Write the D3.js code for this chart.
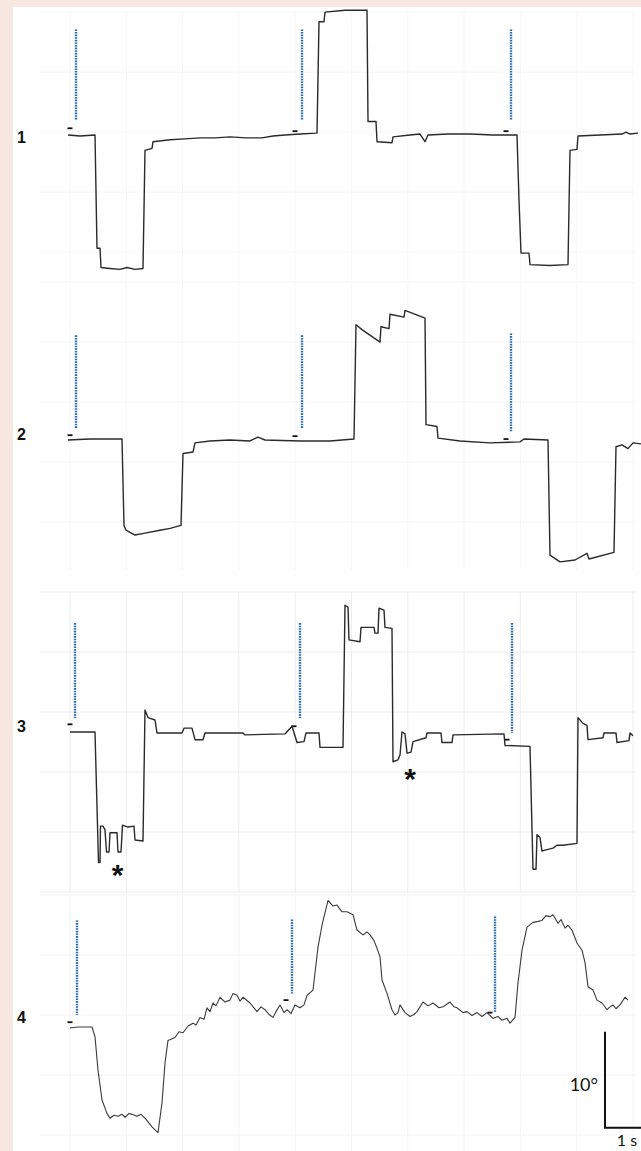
<!DOCTYPE html>
<html>
<head>
<meta charset="utf-8">
<script src="https://cdn.jsdelivr.net/npm/d3@7"></script>
<style>
  body { margin:0; background:#f9e8e1; overflow:hidden; }
  svg { display:block; }
</style>
</head>
<body>
<script>
const width = 641;
const height = 1151;

// traces: [time (s), angle (deg) relative to rest]
const trace1 = [[0,0],[0.24,-0.1],[0.54,0],[0.58,-11.8],[0.64,-11.8],[0.66,-13.8],[0.84,-13.9],[1.04,-14.0],[1.18,-13.8],[1.34,-14.0],[1.5,-13.9],
  [1.54,-1.6],[1.68,-1.4],[1.7,-0.7],[2.04,-0.5],[2.34,-0.4],[2.64,-0.3],[2.94,-0.3],[3.24,-0.2],[3.56,-0.3],[3.88,-0.3],[4.1,-0.1],[4.34,0],[4.64,0.1],[4.98,0.2],
  [5.02,11.8],[5.12,11.8],[5.14,12.8],[5.54,13.0],[5.98,13.0],[6.0,1.4],[6.16,1.4],[6.18,-0.7],[6.48,-0.8],[6.5,-0.2],[6.84,0],[7.04,0.1],[7.14,-0.7],[7.2,0],
  [7.6,0.1],[8.04,0.1],[8.5,0],[8.98,0],[9.02,-6.8],[9.06,-12.3],[9.22,-12.3],[9.24,-13.5],[9.64,-13.6],[10.0,-13.5],[10.04,-1.6],[10.18,-1.5],[10.2,-0.1],
  [10.64,0],[11.08,0.1],[11.16,0.3],[11.24,0.1],[11.4,0.2]];

const trace2 = [[0,0],[0.44,0.1],[1.08,0.1],[1.12,-8.9],[1.16,-9.4],[1.34,-9.9],[1.54,-9.7],[1.84,-9.4],[2.04,-9.2],[2.26,-8.9],[2.3,-1.4],[2.5,-1.25],
  [2.54,-0.3],[2.84,-0.1],[3.24,0],[3.64,-0.1],[3.8,0.3],[3.94,0],[4.64,-0.1],[5.24,-0.1],[5.72,0.1],[5.76,12.0],[5.88,11.5],[6.24,10.2],[6.26,11.8],
  [6.42,11.6],[6.44,13.1],[6.72,12.8],[6.74,13.5],[7.14,12.7],[7.16,1.6],[7.38,1.4],[7.4,0.2],[7.84,-0.1],[8.44,-0.3],[9.04,-0.2],[9.12,0.1],[9.6,0],
  [9.64,-12.0],[9.84,-12.7],[10.14,-12.5],[10.38,-11.8],[10.42,-12.4],[10.92,-11.7],[10.96,-0.7],[11.08,-0.5],[11.2,-0.9],[11.3,-0.3],[11.46,-0.4]];

const trace3 = [[0.04,0],[0.54,0],[0.61,-13.6],[0.64,-13.6],[0.65,-9.8],[0.7,-9.8],[0.74,-10.2],[0.77,-12.5],[0.82,-12.5],[0.84,-10.5],[0.98,-10.5],
  [1.0,-12.5],[1.06,-12.5],[1.09,-9.7],[1.2,-9.9],[1.32,-9.8],[1.34,-11.25],[1.5,-11.35],[1.54,2.3],[1.6,1.5],[1.74,1.25],[1.78,-0.1],[2.28,-0.1],
  [2.32,0.4],[2.48,0.4],[2.54,-0.8],[2.7,-0.8],[2.74,-0.1],[3.5,-0.1],[3.54,-0.3],[4.34,-0.2],[4.48,0.6],[4.58,-1.1],[4.72,-1.0],[4.76,-0.1],
  [5.02,-0.1],[5.04,-1.6],[5.5,-1.6],[5.54,13.2],[5.6,13.0],[5.62,9.6],[5.84,9.4],[5.86,10.9],[6.12,10.9],[6.14,10.3],[6.2,10.3],[6.22,12.9],
  [6.32,12.7],[6.34,10.9],[6.48,10.8],[6.5,-3.1],[6.6,-2.9],[6.64,-2.4],[6.68,0],[6.74,-0.2],[6.78,-2.2],[6.86,-2.1],[6.9,-1.0],[7.16,-0.6],[7.18,-0.1],
  [7.46,-0.1],[7.48,-1.1],[7.68,-1.1],[7.7,-0.3],[8.72,-0.2],[8.74,-1.4],[9.24,-1.5],[9.3,-14.3],[9.36,-14.3],[9.38,-10.7],[9.44,-11.0],[9.48,-12.4],
  [9.54,-12.3],[9.7,-12.1],[9.78,-11.8],[9.9,-11.8],[10.18,-11.6],[10.2,1.5],[10.3,0.9],[10.38,0.7],[10.4,-0.8],[10.7,-0.6],[10.72,-0.1],[10.96,-0.1],
  [10.98,-1.1],[11.22,-0.9],[11.24,-0.1],[11.3,-0.4]];

const trace4 = [[0.04,-0.1],[0.2,0],[0.48,0],[0.54,-1.0],[0.6,-4.5],[0.68,-7.6],[0.78,-9.0],[0.84,-9.5],[0.92,-9.2],[1.0,-9.3],[1.08,-9.1],[1.14,-9.4],
  [1.22,-9.0],[1.28,-9.1],[1.38,-9.3],[1.46,-9.1],[1.54,-9.5],[1.68,-10.4],[1.8,-11.0],[1.88,-7.9],[1.94,-3.75],[2.0,-1.4],[2.14,-1.1],[2.22,-0.5],
  [2.3,-0.6],[2.4,0.1],[2.5,0.4],[2.56,0.2],[2.64,1.0],[2.72,0.8],[2.78,2.0],[2.84,1.6],[2.9,2.5],[2.96,2.2],[3.04,3.1],[3.14,2.6],[3.24,2.8],[3.3,3.5],
  [3.38,3.3],[3.44,2.7],[3.5,3.1],[3.64,2.5],[3.72,2.0],[3.78,1.6],[3.86,2.1],[3.94,1.8],[4.02,1.3],[4.1,1.0],[4.16,1.6],[4.24,2.3],[4.32,1.5],
  [4.38,1.8],[4.46,1.4],[4.54,2.3],[4.64,2.0],[4.72,2.3],[4.78,3.3],[4.9,3.85],[5.0,8.3],[5.08,10.6],[5.2,13.2],[5.3,12.6],[5.38,12.7],[5.48,12.0],
  [5.58,12.0],[5.7,11.7],[5.78,10.1],[5.9,9.6],[5.98,9.9],[6.04,9.6],[6.12,9.0],[6.18,8.2],[6.24,7.3],[6.28,4.9],[6.38,3.5],[6.48,1.8],[6.54,1.25],
  [6.6,1.5],[6.64,2.3],[6.74,1.5],[6.84,1.1],[6.92,1.3],[6.98,1.6],[7.1,2.6],[7.2,2.2],[7.3,2.5],[7.42,2.0],[7.5,2.1],[7.64,2.6],[7.72,2.1],[7.78,2.0],
  [7.9,1.5],[7.98,1.6],[8.08,1.2],[8.18,1.5],[8.28,1.1],[8.38,1.5],[8.5,0.9],[8.6,1.1],[8.68,0.7],[8.78,0.9],[8.84,0.4],[8.94,1.0],[9.0,4.6],[9.08,8.0],
  [9.18,10.4],[9.3,10.9],[9.4,11.0],[9.48,11.1],[9.56,11.6],[9.64,11.5],[9.7,11.7],[9.8,10.8],[9.86,11.2],[9.94,10.3],[10.0,10.6],[10.08,10.1],
  [10.18,8.75],[10.28,8.0],[10.34,6.7],[10.4,4.2],[10.5,3.85],[10.58,2.8],[10.68,2.5],[10.78,1.8],[10.84,2.1],[10.9,2.3],[10.96,1.9],[11.04,2.3],
  [11.14,3.1],[11.2,2.8]];

// stimulus onsets (s), dotted lines from/to (deg), onset markers (deg)
const stimTimes = [[0.16,4.68,8.86],[0.16,4.68,8.86],[0.14,4.64,8.88],[0.18,4.48,8.54]];
const stimTop = [[11.0,11.0,11.0],[10.9,10.9,11.1],[11.35,11.35,11.35],[11.1,11.2,11.5]];
const stimBottom = [[1.5,1.5,1.5],[1.25,1.25,0.85],[1.45,1.45,-0.1],[1.25,3.5,1.6]];
const markTimes = [[0.04,4.54,8.76],[0.04,4.54,8.76],[0.04,4.52,8.78],[0.04,4.36,8.44]];
const markDeg = [[0.7,0.4,0.4],[0.5,0.4,0.1],[0.8,0.6,-0.8],[0.5,2.8,1.5]];

// asterisks [panel, time, deg]
const asterisks = [[2,0.99,-14.2],[2,6.84,-4.2]];
const panelLabels = ['1','2','3','4'];
const traces = [trace1, trace2, trace3, trace4];

// layout
const bases = [135, 440, 732, 1027];
const pxPerDeg = 9.6;
const gridBands = [[12,280],[282,570],[592,893],[895,1151]];
const gridColor = ['#f6f6f6','#f6f6f6','#ededed','#f4f4f4'];

const svg = d3.select('body').append('svg').attr('width', width).attr('height', height);

svg.append('rect').attr('x',13).attr('y',7).attr('width',width-13).attr('height',height-7).attr('fill','#ffffff');

const x = d3.scaleLinear().domain([0, 11.5]).range([68, 643]);
const yScales = bases.map(b => d3.scaleLinear().domain([-1, 1]).range([b + pxPerDeg, b - pxPerDeg]));

// faint background grid
gridBands.forEach((band, i) => {
  const g = svg.append('g').attr('stroke', gridColor[i]).attr('stroke-width', 1);
  d3.range(70, 640, 56.3).forEach(gx => {
    g.append('line').attr('x1', gx).attr('x2', gx).attr('y1', band[0]).attr('y2', band[1]);
  });
  d3.range(band[0], band[1], 60).forEach(gy => {
    g.append('line').attr('x1', 40).attr('x2', 636).attr('y1', gy).attr('y2', gy);
  });
});

const line = d3.line();

traces.forEach((tr, i) => {
  const y = yScales[i];
  const g = svg.append('g');

  // stimulus dotted lines
  stimTimes[i].forEach((t, j) => {
    g.append('line')
      .attr('x1', x(t)).attr('x2', x(t))
      .attr('y1', y(stimTop[i][j])).attr('y2', y(stimBottom[i][j]))
      .attr('stroke', '#2a6aab')
      .attr('stroke-width', 2.4)
      .attr('stroke-dasharray', '1.6,1');
  });

  // onset markers
  markTimes[i].forEach((t, j) => {
    g.append('line')
      .attr('x1', x(t) - 2.5).attr('x2', x(t) + 2.5)
      .attr('y1', y(markDeg[i][j])).attr('y2', y(markDeg[i][j]))
      .attr('stroke', '#111').attr('stroke-width', 1.8);
  });

  g.append('path')
    .attr('d', line(tr.map(d => [x(d[0]), y(d[1])])))
    .attr('fill', 'none')
    .attr('stroke', i === 3 ? '#3a3a3a' : '#2a2a2a')
    .attr('stroke-width', i === 3 ? 1.1 : 1.4)
    .attr('stroke-linejoin', 'round');

  svg.append('text').text(panelLabels[i])
    .attr('x', 17).attr('y', bases[i] + (i === 0 ? 8 : i === 3 ? -4 : 0))
    .style('font-family', "'Liberation Sans', Arial, sans-serif")
    .style('font-weight', 'bold').style('font-size', '16px').attr('fill', '#111');
});

asterisks.forEach(a => {
  const y = yScales[a[0]];
  svg.append('text').text('*')
    .attr('x', x(a[1])).attr('y', y(a[2]) + 17)
    .attr('text-anchor', 'middle')
    .style('font-family', "'Liberation Sans', Arial, sans-serif")
    .style('font-weight', 'bold').style('font-size', '30px').attr('fill', '#111');
});

// scale bar: 10 deg x 1 s
const y4 = yScales[3];
const sbT = 10.74, sbDeg = -0.5;
svg.append('path')
  .attr('d', line([[x(sbT), y4(sbDeg)], [x(sbT), y4(sbDeg - 10)], [x(sbT + 1), y4(sbDeg - 10)]]))
  .attr('fill', 'none').attr('stroke', '#111').attr('stroke-width', 2);

svg.append('text').text('10°')
  .attr('x', x(sbT) - 7).attr('y', y4(sbDeg - 6.2))
  .attr('text-anchor', 'end')
  .style('font-family', "Lato, 'Open Sans', sans-serif").style('font-size', '18px').attr('fill', '#111');

svg.append('text').text('1 s')
  .attr('x', x(sbT + 0.44)).attr('y', y4(sbDeg - 10) + 18)
  .attr('text-anchor', 'middle')
  .style('font-family', "Lato, 'Open Sans', sans-serif").style('font-size', '16px').attr('fill', '#111');
</script>
</body>
</html>
